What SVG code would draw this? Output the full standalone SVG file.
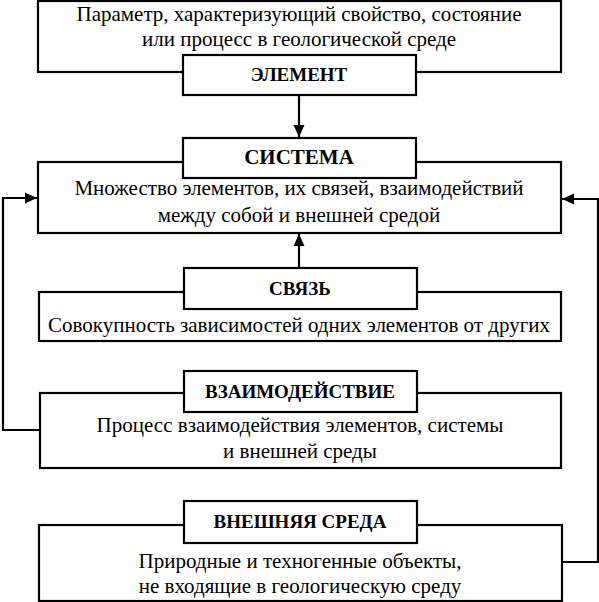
<svg xmlns="http://www.w3.org/2000/svg" width="599" height="602" viewBox="0 0 599 602">
<style>
.box{fill:#fff;stroke:#000;stroke-width:2.2}
.body{font-family:"Liberation Serif","Times New Roman",serif;font-size:21px;text-anchor:middle;fill:#000}
.head{font-family:"Liberation Serif","Times New Roman",serif;font-size:19px;font-weight:bold;text-anchor:middle;fill:#000}
.big{font-size:21px}
.conn{fill:none;stroke:#000;stroke-width:2.2}
</style>
<defs>
<marker id="ah" viewBox="0 0 12 12" refX="12" refY="6" markerWidth="12" markerHeight="12" markerUnits="userSpaceOnUse" orient="auto">
<path d="M0,0.5 L12,6 L0,11.5 Z" fill="#000"/>
</marker>
</defs>
<g id="connectors">
<line class="conn" x1="299" y1="95" x2="299" y2="137" marker-end="url(#ah)"/>
<line class="conn" x1="299" y1="268" x2="299" y2="234" marker-end="url(#ah)"/>
<polyline class="conn" points="40,430 3,430 3,198 37,198" marker-end="url(#ah)"/>
<polyline class="conn" points="562,562 598,562 598,199 562,199" marker-end="url(#ah)"/>
</g>
<g id="element">
<rect class="box" x="38" y="1" width="523" height="71"/>
<text class="body" x="299" y="21">Параметр, характеризующий свойство, состояние</text>
<text class="body" x="299" y="46">или процесс в геологической среде</text>
<rect class="box" x="183" y="55" width="233" height="40"/>
<text class="head" x="299" y="81">ЭЛЕМЕНТ</text>
</g>
<g id="system">
<rect class="box" x="38" y="162" width="523" height="71"/>
<text class="body" x="299" y="195">Множество элементов, их связей, взаимодействий</text>
<text class="body" x="299" y="222">между собой и внешней средой</text>
<rect class="box" x="183" y="138" width="233" height="40"/>
<text class="head big" x="299" y="164">СИСТЕМА</text>
</g>
<g id="link">
<rect class="box" x="39" y="292" width="522" height="49"/>
<text class="body" x="299" y="332">Совокупность зависимостей одних элементов от других</text>
<rect class="box" x="184" y="268" width="233" height="41"/>
<text class="head" x="300" y="295">СВЯЗЬ</text>
</g>
<g id="interaction">
<rect class="box" x="40" y="393" width="521" height="75"/>
<text class="body" x="300" y="432">Процесс взаимодействия элементов, системы</text>
<text class="body" x="300" y="458">и внешней среды</text>
<rect class="box" x="184" y="371" width="233" height="41"/>
<text class="head" x="300" y="398">ВЗАИМОДЕЙСТВИЕ</text>
</g>
<g id="environment">
<rect class="box" x="39" y="525" width="523" height="76"/>
<text class="body" x="300" y="568">Природные и техногенные объекты,</text>
<text class="body" x="300" y="593">не входящие в геологическую среду</text>
<rect class="box" x="184" y="501" width="233" height="42"/>
<text class="head" x="300" y="528">ВНЕШНЯЯ СРЕДА</text>
</g>
</svg>
